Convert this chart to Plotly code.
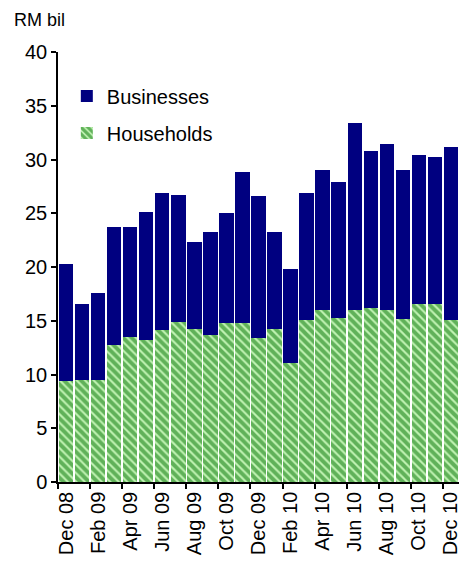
import plotly.graph_objects as go

# Monthly series, Dec 2008 - Dec 2010 (RM billion)
months = ["Dec 08", "Jan 09", "Feb 09", "Mar 09", "Apr 09", "May 09", "Jun 09",
          "Jul 09", "Aug 09", "Sep 09", "Oct 09", "Nov 09", "Dec 09", "Jan 10",
          "Feb 10", "Mar 10", "Apr 10", "May 10", "Jun 10", "Jul 10", "Aug 10",
          "Sep 10", "Oct 10", "Nov 10", "Dec 10"]
households = [9.4, 9.5, 9.5, 12.7, 13.5, 13.2, 14.1, 14.9, 14.2, 13.7, 14.8, 14.8,
              13.4, 14.2, 11.1, 15.1, 16.0, 15.3, 16.0, 16.2, 16.0, 15.2, 16.6,
              16.6, 15.1]
totals = [20.3, 16.6, 17.6, 23.7, 23.7, 25.1, 26.9, 26.7, 22.3, 23.3, 25.0, 28.8,
          26.6, 23.3, 19.8, 26.9, 29.0, 27.9, 33.4, 30.8, 31.4, 29.0, 30.4,
          30.2, 31.2]
businesses = [round(t - h, 2) for t, h in zip(totals, households)]

FONT = "Liberation Sans, Arial, sans-serif"

fig = go.Figure()
fig.add_trace(go.Bar(
    x=months, y=households, name="Households", legendgroup="h", legendrank=2,
    marker=dict(
        color="#c0f2b2",
        line=dict(width=0),
        pattern=dict(shape="\\", fgcolor="#007000", bgcolor="#c0f2b2",
                     size=6, solidity=0.65),
    ),
))
fig.add_trace(go.Bar(
    x=months, y=businesses, name="Businesses", legendgroup="b", legendrank=1,
    marker=dict(color="#000080", line=dict(width=0)),
))

fig.update_layout(
    width=461, height=562,
    barmode="stack", bargap=0.1,
    plot_bgcolor="white", paper_bgcolor="white",
    margin=dict(l=58, r=0, t=52, b=80),
    font=dict(family=FONT, size=20, color="black"),
    showlegend=True,
    legend=dict(x=0.022, y=0.943, xanchor="left", yanchor="top",
                traceorder="grouped", tracegroupgap=8,
                bgcolor="rgba(0,0,0,0)", font=dict(size=20)),
    annotations=[dict(text="RM bil", x=-0.115, y=1.075, xref="paper", yref="paper",
                      xanchor="left", yanchor="middle", showarrow=False,
                      font=dict(size=18))],
)

fig.update_yaxes(range=[0, 40], dtick=5, tick0=0, showgrid=False, zeroline=False,
                 showline=True, linecolor="black", linewidth=1.5,
                 ticks="outside", ticklen=5, tickwidth=1.5, tickcolor="black",
                 tickfont=dict(size=20))
fig.update_xaxes(type="category", range=[-0.5, 24.5], showgrid=False,
                 showline=True, linecolor="black", linewidth=1.5,
                 ticks="outside", ticklen=5, tickwidth=1.5, tickcolor="black",
                 tickson="boundaries", tickmode="linear", tick0=0, dtick=2,
                 tickangle=-90, tickfont=dict(size=20))

fig.write_html("out.html")
